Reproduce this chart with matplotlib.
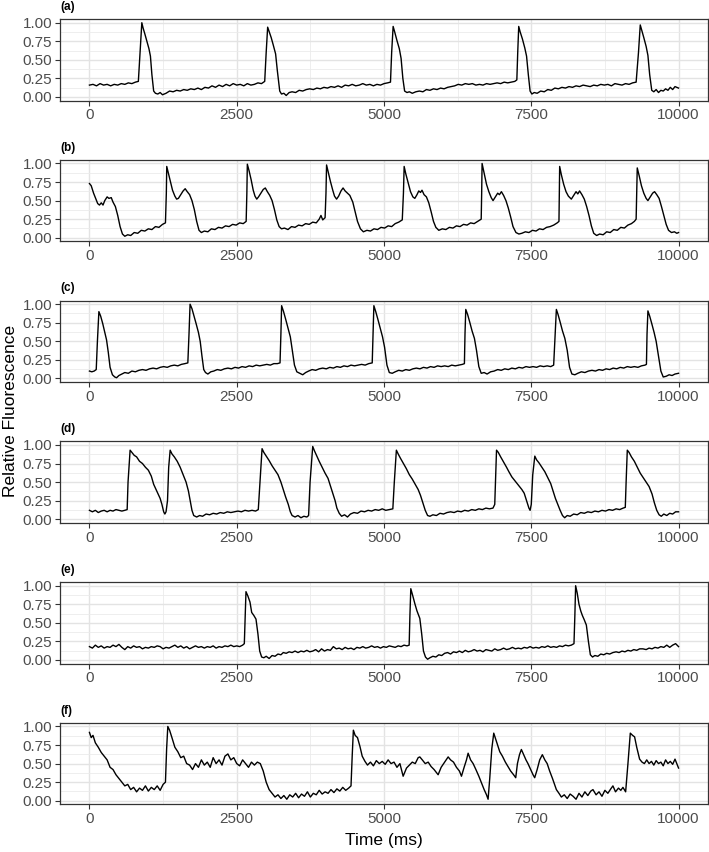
import numpy as np
import matplotlib
matplotlib.use("Agg")
import matplotlib.pyplot as plt
from matplotlib.ticker import MultipleLocator

plt.rcParams["font.family"] = ["Liberation Sans", "DejaVu Sans"]

# Fluorescence traces, (time in ms, relative fluorescence)
TRACE_A = [
    (0, 0.16), (60, 0.17), (120, 0.15), (180, 0.18), (240, 0.16), (300, 0.17), (360, 0.15), (420, 0.17),
    (480, 0.16), (540, 0.18), (600, 0.17), (660, 0.19), (720, 0.18), (780, 0.2), (830, 0.21), (860, 0.6),
    (889, 1.0), (910, 0.93), (940, 0.85), (975, 0.75), (1010, 0.65), (1035, 0.55), (1060, 0.3), (1090, 0.08),
    (1120, 0.05), (1160, 0.04), (1200, 0.06), (1240, 0.03), (1300, 0.05), (1360, 0.08), (1420, 0.07),
    (1480, 0.09), (1540, 0.08), (1600, 0.1), (1660, 0.09), (1720, 0.11), (1780, 0.1), (1840, 0.12),
    (1900, 0.1), (1960, 0.13), (2020, 0.12), (2080, 0.15), (2140, 0.13), (2200, 0.16), (2260, 0.14),
    (2320, 0.17), (2380, 0.15), (2440, 0.18), (2500, 0.16), (2560, 0.17), (2620, 0.15), (2680, 0.18),
    (2740, 0.16), (2800, 0.17), (2860, 0.19), (2920, 0.18), (2975, 0.21), (3000, 0.6), (3025, 0.94),
    (3050, 0.88), (3085, 0.8), (3120, 0.7), (3160, 0.58), (3190, 0.35), (3230, 0.08), (3260, 0.04),
    (3300, 0.05), (3340, 0.02), (3390, 0.06), (3440, 0.07), (3500, 0.06), (3560, 0.09), (3620, 0.08),
    (3680, 0.1), (3740, 0.11), (3800, 0.1), (3860, 0.12), (3920, 0.11), (3980, 0.13), (4040, 0.12),
    (4100, 0.14), (4160, 0.13), (4220, 0.15), (4280, 0.13), (4340, 0.16), (4400, 0.15), (4460, 0.17),
    (4520, 0.15), (4580, 0.16), (4640, 0.18), (4700, 0.16), (4760, 0.17), (4820, 0.15), (4880, 0.17),
    (4940, 0.16), (5000, 0.18), (5060, 0.19), (5110, 0.2), (5130, 0.6), (5155, 0.95), (5180, 0.88),
    (5220, 0.76), (5260, 0.65), (5290, 0.52), (5320, 0.25), (5350, 0.08), (5390, 0.06), (5430, 0.07),
    (5480, 0.05), (5540, 0.07), (5600, 0.08), (5660, 0.07), (5720, 0.1), (5780, 0.09), (5840, 0.11),
    (5900, 0.1), (5960, 0.12), (6020, 0.11), (6080, 0.13), (6140, 0.14), (6200, 0.15), (6260, 0.17),
    (6320, 0.16), (6380, 0.18), (6440, 0.17), (6500, 0.18), (6560, 0.16), (6620, 0.17), (6680, 0.16),
    (6740, 0.18), (6800, 0.17), (6860, 0.18), (6920, 0.19), (6980, 0.18), (7040, 0.2), (7100, 0.19),
    (7160, 0.2), (7220, 0.21), (7255, 0.23), (7270, 0.6), (7287, 0.95), (7310, 0.88), (7350, 0.78),
    (7390, 0.66), (7420, 0.55), (7450, 0.3), (7480, 0.08), (7510, 0.04), (7550, 0.06), (7600, 0.05),
    (7660, 0.08), (7720, 0.07), (7780, 0.1), (7840, 0.09), (7900, 0.12), (7960, 0.11), (8020, 0.13),
    (8080, 0.12), (8140, 0.14), (8200, 0.13), (8260, 0.15), (8320, 0.14), (8380, 0.16), (8440, 0.15),
    (8500, 0.14), (8560, 0.16), (8620, 0.15), (8680, 0.17), (8740, 0.16), (8800, 0.17), (8860, 0.15),
    (8920, 0.18), (8980, 0.17), (9040, 0.16), (9100, 0.18), (9160, 0.17), (9220, 0.19), (9280, 0.2),
    (9320, 0.6), (9350, 0.97), (9375, 0.9), (9410, 0.8), (9450, 0.68), (9480, 0.56), (9510, 0.3),
    (9545, 0.09), (9580, 0.07), (9620, 0.1), (9660, 0.06), (9700, 0.09), (9740, 0.08), (9780, 0.11),
    (9820, 0.09), (9860, 0.13), (9900, 0.1), (9940, 0.14), (10000, 0.12),
]

TRACE_B = [
    (0, 0.73), (30, 0.7), (70, 0.6), (110, 0.52), (140, 0.46), (170, 0.44), (200, 0.47), (230, 0.44),
    (260, 0.5), (300, 0.55), (330, 0.53), (370, 0.54), (400, 0.48), (440, 0.42), (480, 0.3), (520, 0.15),
    (560, 0.05), (600, 0.02), (650, 0.04), (700, 0.03), (760, 0.07), (820, 0.06), (880, 0.1), (940, 0.09),
    (1000, 0.12), (1060, 0.11), (1120, 0.15), (1180, 0.14), (1240, 0.18), (1290, 0.2), (1305, 0.6),
    (1312, 0.96), (1340, 0.87), (1375, 0.76), (1410, 0.64), (1450, 0.56), (1480, 0.52), (1510, 0.53),
    (1550, 0.58), (1590, 0.63), (1625, 0.66), (1660, 0.62), (1700, 0.58), (1740, 0.5), (1780, 0.38),
    (1820, 0.22), (1860, 0.1), (1900, 0.07), (1950, 0.09), (2010, 0.08), (2070, 0.12), (2130, 0.11),
    (2190, 0.14), (2250, 0.13), (2310, 0.16), (2370, 0.15), (2430, 0.18), (2490, 0.17), (2550, 0.2),
    (2610, 0.19), (2660, 0.22), (2672, 0.6), (2680, 0.99), (2710, 0.9), (2745, 0.78), (2780, 0.64),
    (2810, 0.56), (2840, 0.52), (2870, 0.55), (2910, 0.6), (2950, 0.65), (2985, 0.67), (3020, 0.62),
    (3060, 0.57), (3100, 0.5), (3140, 0.38), (3180, 0.24), (3220, 0.15), (3260, 0.12), (3310, 0.13),
    (3370, 0.11), (3430, 0.15), (3490, 0.14), (3550, 0.17), (3610, 0.16), (3670, 0.19), (3730, 0.18),
    (3790, 0.21), (3850, 0.2), (3900, 0.25), (3930, 0.3), (3960, 0.24), (4000, 0.27), (4015, 0.6),
    (4025, 0.98), (4055, 0.88), (4090, 0.76), (4130, 0.64), (4160, 0.56), (4195, 0.52), (4230, 0.56),
    (4270, 0.63), (4305, 0.67), (4340, 0.63), (4380, 0.6), (4420, 0.57), (4470, 0.48), (4510, 0.35),
    (4550, 0.22), (4600, 0.12), (4650, 0.08), (4710, 0.1), (4770, 0.09), (4830, 0.12), (4890, 0.11),
    (4950, 0.14), (5010, 0.13), (5070, 0.16), (5130, 0.15), (5190, 0.19), (5250, 0.21), (5310, 0.24),
    (5330, 0.6), (5342, 0.96), (5370, 0.86), (5410, 0.74), (5450, 0.62), (5490, 0.55), (5523, 0.53),
    (5560, 0.58), (5590, 0.63), (5620, 0.61), (5645, 0.64), (5680, 0.58), (5720, 0.55), (5760, 0.47),
    (5800, 0.35), (5840, 0.22), (5880, 0.14), (5930, 0.1), (5990, 0.12), (6050, 0.11), (6110, 0.14),
    (6170, 0.13), (6230, 0.16), (6290, 0.15), (6350, 0.18), (6410, 0.17), (6470, 0.2), (6530, 0.19),
    (6590, 0.22), (6650, 0.25), (6658, 0.6), (6665, 1.0), (6700, 0.87), (6740, 0.72), (6780, 0.62),
    (6820, 0.54), (6851, 0.5), (6890, 0.55), (6930, 0.6), (6960, 0.58), (6993, 0.62), (7030, 0.57),
    (7070, 0.5), (7110, 0.4), (7150, 0.28), (7190, 0.15), (7240, 0.07), (7290, 0.05), (7340, 0.06),
    (7400, 0.08), (7460, 0.07), (7520, 0.1), (7580, 0.09), (7640, 0.12), (7700, 0.11), (7760, 0.14),
    (7820, 0.15), (7880, 0.17), (7940, 0.2), (7970, 0.22), (7976, 0.6), (7982, 0.96), (8010, 0.85),
    (8050, 0.72), (8090, 0.62), (8130, 0.56), (8180, 0.52), (8220, 0.57), (8260, 0.62), (8290, 0.59),
    (8320, 0.63), (8360, 0.58), (8400, 0.52), (8440, 0.42), (8480, 0.3), (8520, 0.16), (8560, 0.06),
    (8610, 0.03), (8660, 0.05), (8720, 0.04), (8780, 0.08), (8840, 0.07), (8900, 0.11), (8960, 0.1),
    (9020, 0.14), (9080, 0.13), (9140, 0.17), (9200, 0.19), (9250, 0.22), (9280, 0.25), (9290, 0.6),
    (9299, 0.94), (9330, 0.84), (9370, 0.7), (9410, 0.6), (9450, 0.53), (9480, 0.5), (9520, 0.55),
    (9560, 0.6), (9593, 0.62), (9630, 0.58), (9670, 0.53), (9710, 0.42), (9750, 0.3), (9790, 0.18),
    (9830, 0.1), (9880, 0.07), (9930, 0.08), (9970, 0.06), (10000, 0.07),
]

TRACE_C = [
    (0, 0.1), (40, 0.09), (80, 0.1), (115, 0.12), (135, 0.5), (160, 0.9), (190, 0.84), (225, 0.74),
    (260, 0.62), (290, 0.52), (320, 0.35), (350, 0.15), (390, 0.05), (430, 0.02), (460, 0.01), (500, 0.04),
    (550, 0.06), (600, 0.08), (660, 0.07), (720, 0.1), (780, 0.09), (840, 0.11), (900, 0.12), (960, 0.11),
    (1020, 0.13), (1080, 0.14), (1140, 0.13), (1200, 0.15), (1260, 0.16), (1320, 0.15), (1380, 0.17),
    (1440, 0.18), (1500, 0.17), (1560, 0.19), (1620, 0.2), (1670, 0.21), (1690, 0.6), (1708, 1.0),
    (1740, 0.94), (1775, 0.84), (1810, 0.74), (1850, 0.62), (1880, 0.5), (1910, 0.3), (1940, 0.12),
    (1970, 0.08), (2010, 0.06), (2060, 0.09), (2110, 0.1), (2170, 0.12), (2230, 0.11), (2290, 0.13),
    (2350, 0.14), (2410, 0.13), (2470, 0.15), (2530, 0.14), (2590, 0.16), (2650, 0.15), (2710, 0.17),
    (2770, 0.16), (2830, 0.18), (2890, 0.17), (2950, 0.18), (3010, 0.19), (3070, 0.18), (3130, 0.2),
    (3190, 0.2), (3235, 0.21), (3250, 0.6), (3262, 0.98), (3295, 0.9), (3330, 0.8), (3370, 0.68),
    (3410, 0.56), (3440, 0.4), (3480, 0.18), (3520, 0.09), (3570, 0.07), (3620, 0.05), (3670, 0.08),
    (3720, 0.1), (3780, 0.12), (3840, 0.11), (3900, 0.13), (3960, 0.14), (4020, 0.13), (4080, 0.15),
    (4140, 0.14), (4200, 0.16), (4260, 0.15), (4320, 0.17), (4380, 0.16), (4440, 0.18), (4500, 0.17),
    (4560, 0.18), (4620, 0.19), (4680, 0.18), (4740, 0.2), (4800, 0.21), (4815, 0.6), (4828, 0.98),
    (4860, 0.9), (4895, 0.8), (4935, 0.68), (4975, 0.56), (5010, 0.42), (5050, 0.18), (5090, 0.08),
    (5140, 0.07), (5190, 0.09), (5250, 0.11), (5310, 0.1), (5370, 0.12), (5430, 0.11), (5490, 0.13),
    (5550, 0.14), (5610, 0.13), (5670, 0.15), (5730, 0.14), (5790, 0.16), (5850, 0.15), (5910, 0.17),
    (5970, 0.16), (6030, 0.17), (6090, 0.16), (6150, 0.18), (6210, 0.17), (6270, 0.18), (6330, 0.19),
    (6365, 0.2), (6375, 0.6), (6388, 0.93), (6420, 0.86), (6455, 0.76), (6495, 0.64), (6535, 0.54),
    (6570, 0.38), (6610, 0.16), (6650, 0.07), (6700, 0.08), (6750, 0.06), (6810, 0.09), (6870, 0.1),
    (6930, 0.12), (6990, 0.11), (7050, 0.13), (7110, 0.12), (7170, 0.14), (7230, 0.13), (7290, 0.15),
    (7350, 0.14), (7410, 0.16), (7470, 0.15), (7530, 0.16), (7590, 0.15), (7650, 0.17), (7710, 0.16),
    (7770, 0.17), (7830, 0.16), (7880, 0.18), (7905, 0.6), (7926, 0.93), (7955, 0.86), (7990, 0.76),
    (8030, 0.64), (8070, 0.54), (8110, 0.38), (8150, 0.15), (8190, 0.06), (8240, 0.05), (8290, 0.07),
    (8350, 0.09), (8410, 0.08), (8470, 0.1), (8530, 0.11), (8590, 0.1), (8650, 0.12), (8710, 0.11),
    (8770, 0.13), (8830, 0.12), (8890, 0.14), (8950, 0.13), (9010, 0.15), (9070, 0.14), (9130, 0.16),
    (9190, 0.15), (9250, 0.16), (9310, 0.15), (9370, 0.17), (9430, 0.18), (9455, 0.19), (9465, 0.6),
    (9480, 0.91), (9510, 0.84), (9545, 0.74), (9585, 0.62), (9620, 0.5), (9660, 0.3), (9700, 0.1),
    (9740, 0.02), (9790, 0.03), (9840, 0.05), (9890, 0.04), (9940, 0.06), (10000, 0.07),
]

TRACE_D = [
    (0, 0.12), (50, 0.1), (100, 0.12), (150, 0.09), (200, 0.11), (250, 0.12), (300, 0.1), (350, 0.12),
    (400, 0.11), (450, 0.13), (500, 0.12), (550, 0.11), (600, 0.12), (640, 0.13), (655, 0.5), (690, 0.93),
    (720, 0.9), (760, 0.86), (800, 0.84), (850, 0.78), (900, 0.75), (950, 0.7), (1000, 0.66), (1050, 0.58),
    (1090, 0.47), (1130, 0.4), (1170, 0.33), (1200, 0.28), (1230, 0.2), (1260, 0.1), (1280, 0.07),
    (1300, 0.1), (1325, 0.25), (1345, 0.7), (1370, 0.93), (1400, 0.88), (1440, 0.84), (1490, 0.78),
    (1540, 0.7), (1590, 0.6), (1640, 0.5), (1680, 0.38), (1710, 0.25), (1740, 0.12), (1770, 0.05),
    (1820, 0.03), (1870, 0.05), (1920, 0.04), (1980, 0.07), (2040, 0.06), (2100, 0.08), (2160, 0.07),
    (2220, 0.09), (2280, 0.08), (2340, 0.1), (2400, 0.09), (2460, 0.1), (2520, 0.11), (2580, 0.1),
    (2640, 0.12), (2700, 0.11), (2760, 0.12), (2820, 0.11), (2866, 0.13), (2895, 0.5), (2930, 0.95),
    (2960, 0.9), (3000, 0.85), (3050, 0.79), (3100, 0.72), (3150, 0.66), (3200, 0.6), (3250, 0.5),
    (3290, 0.4), (3330, 0.3), (3375, 0.2), (3410, 0.1), (3440, 0.05), (3490, 0.03), (3540, 0.05),
    (3590, 0.02), (3640, 0.04), (3690, 0.03), (3720, 0.05), (3745, 0.5), (3790, 0.98), (3820, 0.92),
    (3860, 0.85), (3900, 0.78), (3950, 0.7), (4000, 0.62), (4050, 0.55), (4090, 0.45), (4130, 0.35),
    (4170, 0.25), (4200, 0.15), (4240, 0.08), (4280, 0.04), (4330, 0.06), (4380, 0.03), (4430, 0.07),
    (4490, 0.09), (4550, 0.08), (4610, 0.11), (4670, 0.1), (4730, 0.12), (4790, 0.11), (4850, 0.13),
    (4910, 0.12), (4970, 0.14), (5030, 0.12), (5090, 0.13), (5150, 0.14), (5175, 0.5), (5210, 0.93),
    (5240, 0.88), (5280, 0.82), (5330, 0.75), (5380, 0.68), (5430, 0.6), (5480, 0.54), (5530, 0.47),
    (5580, 0.4), (5620, 0.32), (5660, 0.22), (5700, 0.12), (5740, 0.05), (5780, 0.04), (5830, 0.06),
    (5890, 0.05), (5950, 0.08), (6010, 0.07), (6070, 0.09), (6130, 0.1), (6190, 0.09), (6250, 0.11),
    (6310, 0.1), (6370, 0.12), (6430, 0.11), (6490, 0.13), (6550, 0.12), (6610, 0.14), (6670, 0.13),
    (6730, 0.15), (6790, 0.14), (6850, 0.15), (6880, 0.2), (6910, 0.93), (6940, 0.9), (6980, 0.84),
    (7030, 0.77), (7080, 0.7), (7120, 0.64), (7170, 0.57), (7220, 0.52), (7260, 0.48), (7300, 0.44),
    (7340, 0.4), (7380, 0.35), (7420, 0.25), (7460, 0.15), (7480, 0.12), (7500, 0.2), (7525, 0.6),
    (7560, 0.85), (7590, 0.8), (7630, 0.76), (7680, 0.7), (7730, 0.64), (7780, 0.56), (7830, 0.48),
    (7870, 0.38), (7910, 0.28), (7950, 0.2), (7990, 0.12), (8030, 0.05), (8067, 0.02), (8110, 0.05),
    (8160, 0.04), (8220, 0.07), (8280, 0.06), (8340, 0.09), (8400, 0.08), (8460, 0.1), (8520, 0.09),
    (8580, 0.11), (8640, 0.1), (8700, 0.12), (8760, 0.11), (8820, 0.13), (8880, 0.12), (8940, 0.14),
    (9000, 0.13), (9060, 0.15), (9096, 0.16), (9110, 0.5), (9130, 0.93), (9160, 0.9), (9200, 0.84),
    (9250, 0.78), (9300, 0.7), (9350, 0.62), (9400, 0.56), (9450, 0.5), (9500, 0.44), (9550, 0.34),
    (9590, 0.22), (9630, 0.12), (9670, 0.06), (9707, 0.04), (9750, 0.07), (9800, 0.05), (9850, 0.08),
    (9900, 0.07), (9950, 0.1), (10000, 0.1),
]

TRACE_E = [
    (0, 0.18), (50, 0.16), (100, 0.2), (150, 0.17), (200, 0.19), (250, 0.16), (300, 0.18), (350, 0.17),
    (400, 0.2), (450, 0.18), (500, 0.21), (550, 0.17), (600, 0.14), (650, 0.18), (700, 0.16), (750, 0.19),
    (800, 0.17), (850, 0.18), (900, 0.15), (950, 0.17), (1000, 0.16), (1050, 0.18), (1100, 0.17),
    (1150, 0.19), (1200, 0.18), (1250, 0.15), (1300, 0.17), (1350, 0.16), (1400, 0.18), (1450, 0.2),
    (1500, 0.17), (1550, 0.19), (1600, 0.16), (1650, 0.18), (1700, 0.15), (1750, 0.17), (1800, 0.19),
    (1850, 0.17), (1900, 0.18), (1950, 0.16), (2000, 0.18), (2050, 0.17), (2100, 0.19), (2150, 0.16),
    (2200, 0.18), (2250, 0.17), (2300, 0.19), (2350, 0.18), (2400, 0.2), (2450, 0.18), (2500, 0.19),
    (2550, 0.18), (2600, 0.2), (2629, 0.22), (2645, 0.6), (2657, 0.92), (2690, 0.86), (2725, 0.78),
    (2754, 0.64), (2790, 0.6), (2827, 0.55), (2860, 0.35), (2890, 0.12), (2923, 0.04), (2960, 0.03),
    (3000, 0.05), (3050, 0.02), (3100, 0.06), (3150, 0.05), (3200, 0.08), (3250, 0.07), (3290, 0.1),
    (3340, 0.09), (3390, 0.11), (3440, 0.1), (3490, 0.12), (3540, 0.1), (3590, 0.12), (3640, 0.11),
    (3690, 0.13), (3740, 0.11), (3790, 0.12), (3840, 0.14), (3890, 0.11), (3940, 0.15), (3990, 0.12),
    (4040, 0.14), (4090, 0.13), (4140, 0.18), (4190, 0.15), (4240, 0.16), (4290, 0.14), (4340, 0.17),
    (4390, 0.15), (4440, 0.16), (4490, 0.14), (4540, 0.17), (4590, 0.16), (4640, 0.18), (4690, 0.16),
    (4740, 0.17), (4790, 0.19), (4840, 0.17), (4890, 0.18), (4940, 0.16), (4990, 0.18), (5040, 0.17),
    (5090, 0.19), (5140, 0.18), (5190, 0.17), (5240, 0.19), (5290, 0.18), (5340, 0.2), (5390, 0.19),
    (5427, 0.2), (5440, 0.6), (5455, 0.96), (5490, 0.86), (5523, 0.76), (5560, 0.66), (5608, 0.56),
    (5640, 0.35), (5670, 0.12), (5704, 0.04), (5740, 0.01), (5780, 0.03), (5830, 0.05), (5880, 0.04),
    (5930, 0.07), (5980, 0.06), (6030, 0.09), (6080, 0.1), (6130, 0.08), (6180, 0.11), (6230, 0.1),
    (6280, 0.12), (6330, 0.1), (6380, 0.13), (6430, 0.11), (6480, 0.12), (6530, 0.14), (6580, 0.12),
    (6630, 0.13), (6680, 0.11), (6730, 0.14), (6780, 0.13), (6830, 0.12), (6880, 0.15), (6930, 0.13),
    (6980, 0.14), (7030, 0.16), (7080, 0.14), (7130, 0.15), (7180, 0.17), (7230, 0.15), (7280, 0.16),
    (7330, 0.15), (7380, 0.17), (7430, 0.16), (7480, 0.18), (7530, 0.16), (7580, 0.17), (7630, 0.16),
    (7680, 0.18), (7730, 0.17), (7780, 0.19), (7830, 0.17), (7880, 0.18), (7930, 0.17), (7980, 0.19),
    (8030, 0.18), (8080, 0.2), (8130, 0.19), (8180, 0.2), (8225, 0.22), (8240, 0.6), (8253, 1.0),
    (8280, 0.9), (8310, 0.75), (8340, 0.66), (8367, 0.6), (8400, 0.54), (8435, 0.47), (8470, 0.25),
    (8503, 0.07), (8540, 0.04), (8580, 0.06), (8630, 0.05), (8680, 0.08), (8730, 0.07), (8780, 0.09),
    (8830, 0.08), (8886, 0.1), (8940, 0.11), (8990, 0.1), (9040, 0.12), (9090, 0.11), (9140, 0.13),
    (9190, 0.12), (9240, 0.14), (9290, 0.13), (9340, 0.15), (9395, 0.15), (9450, 0.14), (9500, 0.16),
    (9550, 0.15), (9600, 0.17), (9650, 0.16), (9700, 0.18), (9750, 0.17), (9800, 0.2), (9850, 0.17),
    (9900, 0.2), (9950, 0.22), (10000, 0.18),
]

TRACE_F = [
    (0, 0.92), (30, 0.85), (60, 0.88), (100, 0.78), (150, 0.72), (200, 0.65), (250, 0.6), (300, 0.55),
    (350, 0.45), (400, 0.42), (450, 0.35), (500, 0.3), (550, 0.25), (600, 0.2), (650, 0.22), (700, 0.15),
    (750, 0.18), (800, 0.12), (850, 0.17), (900, 0.14), (950, 0.2), (1000, 0.13), (1050, 0.18),
    (1100, 0.15), (1150, 0.2), (1200, 0.14), (1250, 0.22), (1290, 0.25), (1310, 0.7), (1330, 1.0),
    (1360, 0.95), (1400, 0.85), (1450, 0.72), (1500, 0.66), (1550, 0.58), (1600, 0.6), (1650, 0.5),
    (1700, 0.48), (1750, 0.42), (1800, 0.5), (1850, 0.45), (1900, 0.55), (1950, 0.48), (2000, 0.52),
    (2050, 0.45), (2100, 0.58), (2150, 0.5), (2200, 0.55), (2250, 0.48), (2300, 0.6), (2350, 0.63),
    (2400, 0.55), (2450, 0.58), (2500, 0.5), (2550, 0.47), (2600, 0.55), (2650, 0.5), (2700, 0.45),
    (2750, 0.52), (2800, 0.48), (2850, 0.52), (2900, 0.5), (2950, 0.4), (3000, 0.25), (3050, 0.15),
    (3100, 0.1), (3150, 0.05), (3200, 0.08), (3250, 0.03), (3300, 0.07), (3350, 0.02), (3400, 0.08),
    (3450, 0.05), (3500, 0.1), (3550, 0.04), (3600, 0.09), (3650, 0.06), (3700, 0.12), (3750, 0.05),
    (3800, 0.1), (3850, 0.08), (3900, 0.14), (3950, 0.09), (4000, 0.12), (4050, 0.1), (4100, 0.15),
    (4150, 0.11), (4200, 0.16), (4250, 0.13), (4300, 0.18), (4350, 0.14), (4400, 0.17), (4440, 0.2),
    (4460, 0.6), (4480, 0.95), (4510, 0.88), (4550, 0.85), (4592, 0.73), (4630, 0.6), (4677, 0.53),
    (4720, 0.48), (4770, 0.52), (4820, 0.47), (4870, 0.54), (4920, 0.5), (4970, 0.53), (5020, 0.49),
    (5070, 0.55), (5120, 0.5), (5170, 0.52), (5220, 0.45), (5270, 0.5), (5325, 0.33), (5382, 0.44),
    (5430, 0.48), (5480, 0.52), (5530, 0.5), (5580, 0.58), (5608, 0.59), (5650, 0.55), (5700, 0.5),
    (5750, 0.52), (5800, 0.46), (5850, 0.42), (5919, 0.35), (5970, 0.45), (6030, 0.52), (6089, 0.59),
    (6130, 0.55), (6180, 0.52), (6230, 0.45), (6280, 0.4), (6315, 0.33), (6360, 0.45), (6400, 0.55),
    (6428, 0.64), (6470, 0.55), (6513, 0.5), (6560, 0.42), (6610, 0.33), (6654, 0.24), (6700, 0.15),
    (6740, 0.08), (6767, 0.02), (6795, 0.3), (6830, 0.7), (6863, 0.91), (6900, 0.82), (6940, 0.72),
    (6965, 0.66), (7010, 0.6), (7060, 0.52), (7106, 0.46), (7150, 0.4), (7200, 0.35), (7236, 0.31),
    (7265, 0.5), (7300, 0.62), (7332, 0.69), (7370, 0.62), (7410, 0.55), (7444, 0.5), (7490, 0.42),
    (7530, 0.35), (7558, 0.31), (7600, 0.42), (7643, 0.55), (7688, 0.62), (7730, 0.55), (7770, 0.5),
    (7812, 0.4), (7860, 0.3), (7926, 0.15), (7970, 0.1), (8011, 0.05), (8060, 0.08), (8110, 0.03),
    (8160, 0.09), (8210, 0.06), (8260, 0.02), (8310, 0.1), (8360, 0.05), (8410, 0.12), (8460, 0.07),
    (8510, 0.13), (8547, 0.15), (8600, 0.08), (8650, 0.12), (8700, 0.06), (8750, 0.14), (8800, 0.1),
    (8850, 0.16), (8886, 0.2), (8930, 0.12), (8980, 0.17), (9020, 0.14), (9056, 0.18), (9102, 0.12),
    (9141, 0.5), (9181, 0.91), (9220, 0.88), (9254, 0.86), (9290, 0.72), (9339, 0.56), (9380, 0.52),
    (9420, 0.5), (9460, 0.55), (9500, 0.5), (9540, 0.53), (9580, 0.48), (9620, 0.54), (9660, 0.5),
    (9700, 0.52), (9740, 0.47), (9780, 0.55), (9820, 0.5), (9860, 0.53), (9900, 0.49), (9940, 0.56),
    (9970, 0.5), (10000, 0.44),
]

PANEL_LABELS = ["(a)", "(b)", "(c)", "(d)", "(e)", "(f)"]
TRACES = [TRACE_A, TRACE_B, TRACE_C, TRACE_D, TRACE_E, TRACE_F]
X_TICKS = [0, 2500, 5000, 7500, 10000]
Y_TICKS = [0.0, 0.25, 0.5, 0.75, 1.0]

W, H = 709, 852
fig = plt.figure(figsize=(W / 100, H / 100), dpi=100)

# panel geometry in pixels (ggplot theme_bw look)
left_px, right_px = 60, 708
first_top, step, panel_h = 19, 140.75, 81.7

for i, (label, trace) in enumerate(zip(PANEL_LABELS, TRACES)):
    top = first_top + i * step
    ax = fig.add_axes([left_px / W, 1 - (top + panel_h) / H,
                       (right_px - left_px) / W, panel_h / H])
    t = np.array([p[0] for p in trace])
    v = np.array([p[1] for p in trace])
    ax.plot(t, v, color="black", lw=1.0, zorder=3)

    ax.set_xlim(-500, 10500)
    ax.set_ylim(-0.05, 1.05)
    ax.set_xticks(X_TICKS)
    ax.set_yticks(Y_TICKS)
    ax.set_yticklabels([f"{y:.2f}" for y in Y_TICKS])
    ax.xaxis.set_minor_locator(MultipleLocator(1250))
    ax.yaxis.set_minor_locator(MultipleLocator(0.125))
    ax.grid(which="major", color="#E3E3E3", lw=1.0, zorder=0)
    ax.grid(which="minor", color="#EBEBEB", lw=0.6, zorder=0)
    ax.set_axisbelow(True)
    ax.tick_params(which="major", length=3.5, width=0.8, color="#333333",
                   labelsize=11, labelcolor="#4D4D4D", pad=2)
    ax.tick_params(which="minor", length=0)
    for sp in ax.spines.values():
        sp.set_color("#333333")
        sp.set_linewidth(0.9)

    fig.text(left_px / W, 1 - (top - 12) / H, label, fontsize=8.5,
             fontweight="bold", ha="left", va="center")

fig.text(11 / W, 1 - 411 / H, "Relative Fluorescence", rotation=90,
         fontsize=12.5, ha="center", va="center")
fig.text((left_px + right_px) / 2 / W, 1 - 840 / H, "Time (ms)",
         fontsize=12.5, ha="center", va="center")

fig.savefig("out.png", dpi=100)
